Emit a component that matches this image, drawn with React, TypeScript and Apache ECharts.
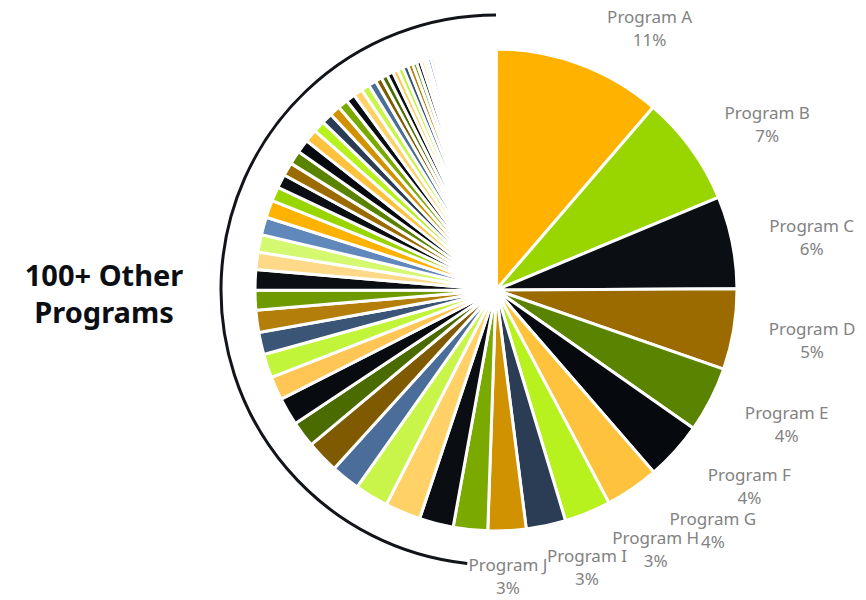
import React, { useEffect, useRef } from "react";
import * as echarts from "echarts";

// ---- data ----
const TOP_NAMES = [
  "Program A", "Program B", "Program C", "Program D", "Program E",
  "Program F", "Program G", "Program H", "Program I", "Program J",
];
const TOP_VALUES = [11.3, 7.4, 6.2, 5.4, 4.4, 3.9, 3.6, 3.1, 2.65, 2.55];

// the 100+ other programs (percent share), in pie order
const OTHER_VALUES = [
  2.3, 2.28, 2.39, 2.25, 1.94, 2.19, 1.75, 1.86, 1.58, 1.58,
  1.5, 1.47, 1.33, 1.36, 1.17, 1.17, 1.19, 1.17, 0.94, 0.92,
  0.89, 0.92, 0.89, 0.86, 0.78, 0.72, 0.72, 0.67, 0.61, 0.61,
  0.56, 0.53, 0.44, 0.42, 0.42, 0.36, 0.36, 0.36, 0.33, 0.28,
  0.28, 0.25, 0.22,
  0.24, 0.22, 0.2, 0.19, 0.18, 0.16, 0.15, 0.14, 0.13, 0.12,
  0.12, 0.11, 0.11, 0.1, 0.1, 0.1, 0.09, 0.09, 0.09, 0.08,
  0.08, 0.08, 0.07, 0.07, 0.07, 0.07, 0.06, 0.06, 0.06, 0.06, 0.06,
  0.05, 0.05, 0.05, 0.05, 0.05, 0.05,
  0.04, 0.04, 0.04, 0.04, 0.04, 0.04, 0.04,
  0.03, 0.03, 0.03, 0.03, 0.03, 0.03, 0.03, 0.03, 0.03,
  0.02, 0.02, 0.02, 0.02, 0.02, 0.02, 0.02, 0.02, 0.02, 0.02, 0.02,
  0.01, 0.01, 0.01, 0.01, 0.01, 0.01,
];
const OTHER_CAPTION = "100+ Other\nPrograms";

// ---- styles / layout ----
const PALETTE = [
  "#FFB300", "#99D600", "#0B0F14", "#9C6B00", "#5A8300", "#06090D",
  "#FFC23D", "#B8F21E", "#2A3D55", "#D09200", "#7AAA00", "#0A0D12",
  "#FFD166", "#C9F54B", "#4A6E99", "#7F5A00", "#4A6B00", "#080B0F",
  "#FFC555", "#C0F53A", "#3A5575", "#B37F0A", "#6E9A00", "#0B0F14",
  "#FFD98A", "#D4F870", "#6088BB",
];
const CX = 496;
const CY = 290;
const R = 241;
const ARC_R = 275;
// label placement (Excel-like nudges around each slice's mid angle)
const LABEL_SHIFT_DEG = [10.0, 4.45, 1.95, -0.45, -2.4, -4.4, -7.67, -9.34, -6.15, 0.23];
const LABEL_RADIUS = [304, 318, 320, 320, 320, 320, 323.5, 304, 292, 286];

const ALL_VALUES = [...TOP_VALUES, ...OTHER_VALUES];
const TOTAL = ALL_VALUES.reduce((a, b) => a + b, 0);

function midAngleDeg(i: number): number {
  let s = 0;
  for (let j = 0; j < i; j++) s += ALL_VALUES[j];
  s += ALL_VALUES[i] / 2;
  return (s / TOTAL) * 360;
}

export default function App() {
  const ref = useRef<HTMLDivElement>(null);

  useEffect(() => {
    if (!ref.current) return;
    const chart = echarts.init(ref.current, null, { renderer: "svg" });

    const data = [
      ...TOP_NAMES.map((n, i) => ({ name: n, value: TOP_VALUES[i] })),
      ...OTHER_VALUES.map((v, i) => ({
        name: "Other program " + (i + 1),
        value: v,
        label: { show: false },
      })),
    ];

    chart.setOption({
      animation: false,
      backgroundColor: "#ffffff",
      color: PALETTE,
      series: [
        {
          type: "pie",
          center: [CX, CY],
          radius: [0, R],
          startAngle: 90,
          clockwise: true,
          avoidLabelOverlap: false,
          silent: true,
          data,
          itemStyle: { borderColor: "#ffffff", borderWidth: 3 },
          label: {
            show: true,
            position: "outside",
            color: "#828282",
            fontFamily: "Noto Sans",
            fontSize: 17,
            lineHeight: 23,
            formatter: (p: any) => `${p.name}\n${Math.round(p.percent)}%`,
          },
          labelLine: { show: false, length: 0, length2: 0 },
          labelLayout: (p: any) => {
            const i = p.dataIndex;
            if (i >= TOP_VALUES.length) return {};
            const a = ((midAngleDeg(i) + LABEL_SHIFT_DEG[i]) * Math.PI) / 180;
            const r = LABEL_RADIUS[i];
            return {
              x: CX + r * Math.sin(a),
              y: CY - r * Math.cos(a),
              align: "center",
              verticalAlign: "middle",
            };
          },
        },
      ],
      graphic: [
        {
          type: "arc",
          shape: {
            cx: CX,
            cy: CY,
            r: ARC_R,
            startAngle: (96 * Math.PI) / 180,
            endAngle: (270 * Math.PI) / 180,
            clockwise: true,
          },
          style: { stroke: "#111418", lineWidth: 3, fill: null },
          silent: true,
        },
        {
          type: "text",
          x: 104,
          y: 293,
          style: {
            text: OTHER_CAPTION,
            font: 'bold 29px "Noto Sans"',
            fontFamily: "Noto Sans",
            fontSize: 29,
            fontWeight: "bold",
            lineHeight: 37,
            align: "center",
            verticalAlign: "middle",
            fill: "#0B0F14",
          },
          silent: true,
        },
      ],
    });

    return () => chart.dispose();
  }, []);

  return (
    <div
      ref={ref}
      style={{ position: "absolute", left: 0, top: 0, width: 866, height: 600, background: "#fff" }}
    />
  );
}
